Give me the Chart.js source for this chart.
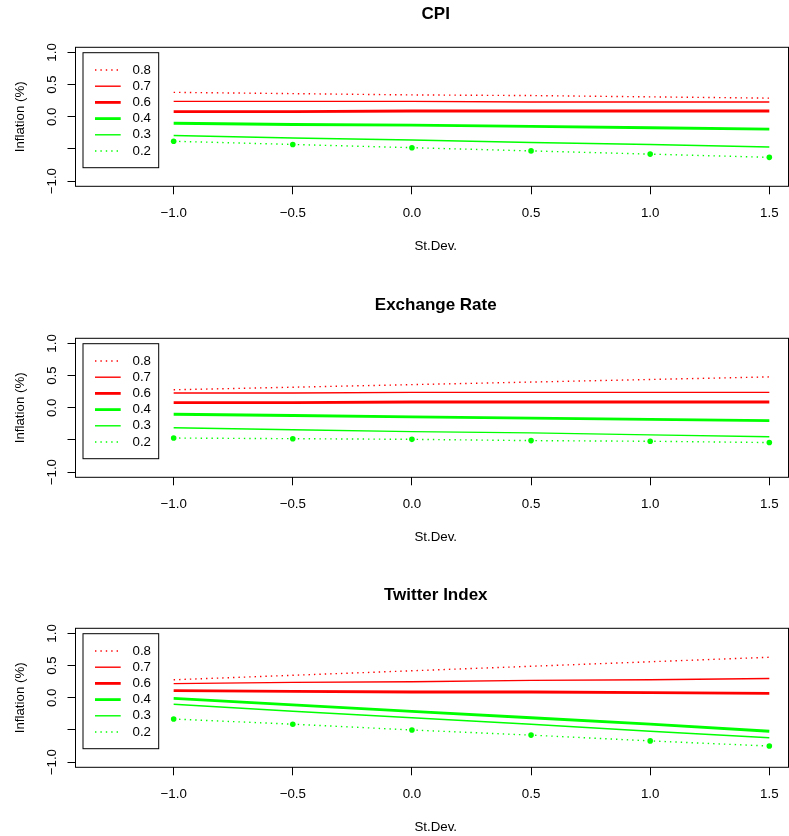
<!DOCTYPE html>
<html>
<head>
<meta charset="utf-8">
<script src="https://cdn.jsdelivr.net/npm/chart.js@4/dist/chart.umd.min.js"></script>
<style>
  html, body { margin: 0; padding: 0; background: #ffffff; overflow: hidden; width: 789px; height: 836px; }
  canvas { position: absolute; left: 0; }
</style>
</head>
<body>
<canvas id="c0" width="800" height="290" style="top:0px"></canvas>
<canvas id="c1" width="800" height="290" style="top:291px"></canvas>
<canvas id="c2" width="800" height="290" style="top:581px"></canvas>
<script>
// ---------- data ----------
const xValues = [-1, -0.5, 0, 0.5, 1, 1.5];
const xTicks = [-1, -0.5, 0, 0.5, 1, 1.5];
const xTickLabels = ['\u22121.0', '\u22120.5', '0.0', '0.5', '1.0', '1.5'];
const yTicks = [-1, -0.5, 0, 0.5, 1];
const yTickLabels = ['\u22121.0', '', '0.0', '0.5', '1.0'];
const quantiles = ['0.8', '0.7', '0.6', '0.4', '0.3', '0.2'];
const panelTitles = ['CPI', 'Exchange Rate', 'Twitter Index'];
const xAxisTitle = 'St.Dev.';
const yAxisTitle = 'Inflation (%)';

const cpiQ80 = [0.38, 0.36, 0.34, 0.33, 0.31, 0.29];
const cpiQ70 = [0.24, 0.24, 0.24, 0.23, 0.23, 0.23];
const cpiQ60 = [0.08, 0.08, 0.09, 0.09, 0.09, 0.09];
const cpiQ40 = [-0.10, -0.12, -0.13, -0.15, -0.17, -0.19];
const cpiQ30 = [-0.29, -0.33, -0.36, -0.40, -0.43, -0.47];
const cpiQ20 = [-0.38, -0.43, -0.48, -0.53, -0.58, -0.63];

const fxQ80 = [0.28, 0.32, 0.36, 0.40, 0.44, 0.48];
const fxQ70 = [0.23, 0.23, 0.24, 0.24, 0.24, 0.24];
const fxQ60 = [0.08, 0.08, 0.09, 0.09, 0.09, 0.09];
const fxQ40 = [-0.10, -0.12, -0.14, -0.16, -0.18, -0.20];
const fxQ30 = [-0.31, -0.34, -0.37, -0.39, -0.42, -0.45];
const fxQ20 = [-0.47, -0.48, -0.49, -0.51, -0.52, -0.54];

const twQ80 = [0.28, 0.35, 0.42, 0.49, 0.56, 0.63];
const twQ70 = [0.22, 0.24, 0.25, 0.27, 0.28, 0.30];
const twQ60 = [0.11, 0.10, 0.09, 0.09, 0.08, 0.07];
const twQ40 = [-0.01, -0.11, -0.21, -0.31, -0.41, -0.52];
const twQ30 = [-0.10, -0.21, -0.31, -0.41, -0.52, -0.62];
const twQ20 = [-0.33, -0.41, -0.50, -0.58, -0.67, -0.75];

const panelSeries = [
  [cpiQ80, cpiQ70, cpiQ60, cpiQ40, cpiQ30, cpiQ20],
  [fxQ80, fxQ70, fxQ60, fxQ40, fxQ30, fxQ20],
  [twQ80, twQ70, twQ60, twQ40, twQ30, twQ20]
];

// ---------- styles ----------
const RED = '#ff0000', GREEN = '#00ff00';
const FONT = '"Liberation Sans", Arial, Helvetica, sans-serif';
const seriesStyle = [
  { color: RED,   width: 1.4, dash: [1.4, 4], points: false },
  { color: RED,   width: 1.4, dash: [],       points: false },
  { color: RED,   width: 2.8, dash: [],       points: false },
  { color: GREEN, width: 2.8, dash: [],       points: false },
  { color: GREEN, width: 1.4, dash: [],       points: false },
  { color: GREEN, width: 1.4, dash: [1.4, 4], points: true }
];
const VISIBLE_RIGHT = 788.5;

// ---------- plugins ----------
const boxPlugin = {
  id: 'rbox',
  afterDraw(chart) {
    const { ctx, chartArea: a } = chart;
    ctx.save();
    ctx.strokeStyle = '#000';
    ctx.lineWidth = 1;
    const right = Math.min(a.right, VISIBLE_RIGHT);
    ctx.strokeRect(a.left, a.top, right - a.left, a.bottom - a.top);
    // rotated y tick labels
    const ys = chart.scales.y;
    ctx.fillStyle = '#000';
    ctx.font = '13.3px ' + FONT;
    ctx.textAlign = 'center';
    ctx.textBaseline = 'middle';
    yTicks.forEach((v, i) => {
      const lbl = yTickLabels[i];
      if (!lbl) return;
      const py = ys.getPixelForValue(v);
      ctx.save();
      ctx.translate(52, py);
      ctx.rotate(-Math.PI / 2);
      ctx.fillText(lbl, 0, 0);
      ctx.restore();
    });
    // legend
    const lx = a.left + 7.5, ly = a.top + 5.4, lw = 75.7, lh = 115;
    ctx.fillStyle = '#fff';
    ctx.fillRect(lx, ly, lw, lh);
    ctx.strokeStyle = '#000';
    ctx.lineWidth = 1;
    ctx.strokeRect(lx, ly, lw, lh);
    chart.data.datasets.forEach((ds, i) => {
      const yy = a.top + 22.7 + i * 16.2;
      ctx.save();
      ctx.strokeStyle = ds.borderColor;
      ctx.lineWidth = ds.borderWidth;
      ctx.setLineDash(ds.borderDash || []);
      ctx.beginPath();
      ctx.moveTo(lx + 12, yy);
      ctx.lineTo(lx + 37.7, yy);
      ctx.stroke();
      ctx.restore();
      ctx.fillStyle = '#000';
      ctx.textAlign = 'left';
      ctx.textBaseline = 'middle';
      ctx.fillText(ds.label, lx + 49.5, yy);
    });
    ctx.restore();
  }
};

// ---------- charts ----------
panelTitles.forEach((title, p) => {
  const datasets = panelSeries[p].map((vals, i) => {
    const st = seriesStyle[i];
    return {
      label: quantiles[i],
      data: xValues.map((x, j) => ({ x: x, y: vals[j] })),
      borderColor: st.color,
      backgroundColor: st.color,
      borderWidth: st.width,
      borderDash: st.dash,
      pointRadius: st.points ? 2.8 : 0,
      pointBorderWidth: 0,
      pointBackgroundColor: st.color,
      fill: false,
      tension: 0
    };
  });
  new Chart(document.getElementById('c' + p), {
    type: 'line',
    data: { datasets: datasets },
    plugins: [boxPlugin],
    options: {
      responsive: false,
      animation: false,
      devicePixelRatio: 1,
      layout: { padding: { left: 0, right: 2.2, top: 0, bottom: 33.7 } },
      plugins: {
        legend: { display: false },
        tooltip: { enabled: false },
        title: {
          display: true,
          text: title,
          fullSize: false,
          color: '#000',
          font: { family: FONT, size: 17, weight: 'bold', lineHeight: 1.2 },
          padding: { top: 4.3, bottom: 22.6 }
        }
      },
      scales: {
        x: {
          type: 'linear',
          min: -1.412,
          max: 1.612,
          afterBuildTicks: s => { s.ticks = xTicks.map(v => ({ value: v })); },
          afterFit: s => { s.height = 70; },
          ticks: {
            autoSkip: false,
            maxRotation: 0,
            padding: 11,
            color: '#000',
            font: { family: FONT, size: 13.3 },
            callback: (v, i) => xTickLabels[i]
          },
          grid: { drawOnChartArea: false, drawTicks: true, tickLength: 8, color: '#000', lineWidth: 1 },
          border: { display: false },
          title: {
            display: true,
            text: xAxisTitle,
            color: '#000',
            font: { family: FONT, size: 13.3, lineHeight: 1.2 },
            padding: { top: 0, bottom: 2 }
          }
        },
        y: {
          type: 'linear',
          min: -1.08,
          max: 1.08,
          afterBuildTicks: s => { s.ticks = yTicks.map(v => ({ value: v })); },
          afterFit: s => { s.width = 75.5; },
          ticks: { display: false },
          grid: { drawOnChartArea: false, drawTicks: true, tickLength: 8, color: '#000', lineWidth: 1 },
          border: { display: false },
          title: {
            display: true,
            text: yAxisTitle,
            color: '#000',
            font: { family: FONT, size: 13.3, lineHeight: 1.2 },
            padding: { top: 12, bottom: 0 }
          }
        }
      }
    }
  });
});
</script>
</body>
</html>
